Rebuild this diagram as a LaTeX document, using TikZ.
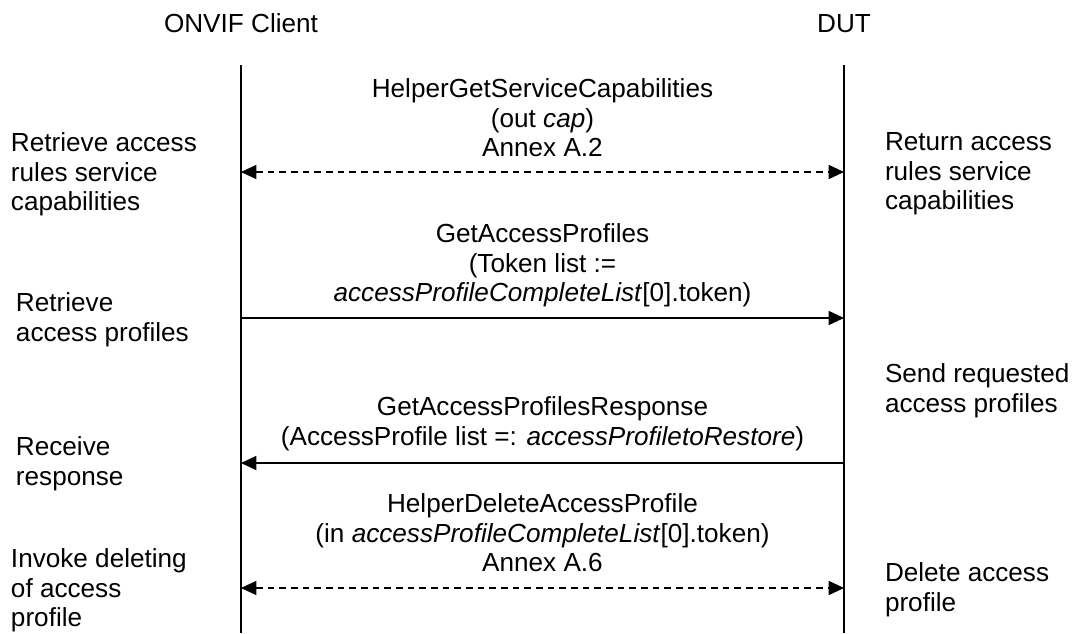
\documentclass[tikz,border=0pt]{standalone}
\usepackage{fontspec}
\setmainfont{Liberation Sans}
\usetikzlibrary{arrows.meta}
\begin{document}
\begin{tikzpicture}[x=0.75pt,y=-0.75pt,
  every node/.style={inner sep=0pt, outer sep=0pt, font=\fontsize{19.6}{21.8}\selectfont},
  lifeline/.style={line width=1.2pt},
  tip/.tip={Triangle[length=11.5pt,width=10.5pt]},
  msg/.style={line width=1.2pt, -tip},
  callmsg/.style={line width=1.2pt, tip-tip, dash pattern=on 5pt off 3.75pt},
  lbl/.style={align=left, anchor=north west},
  ctr/.style={align=center, anchor=north}]
\useasboundingbox (0,0) rectangle (1077,633);
% headers
\node[anchor=base] (client) at (241,32) {ONVIF Client};
\node[anchor=base] (dut) at (844,32) {DUT};
% lifelines
\coordinate (ctop) at (241,65);
\coordinate (cbot) at (241,633);
\coordinate (dtop) at (844,65);
\coordinate (dbot) at (844,633);
\draw[lifeline] (ctop) -- (cbot);
\draw[lifeline] (dtop) -- (dbot);
% message end points
\coordinate (c1) at (241,172); \coordinate (d1) at (844,172);
\coordinate (c2) at (241,318); \coordinate (d2) at (844,318);
\coordinate (c3) at (241,463); \coordinate (d3) at (844,463);
\coordinate (c4) at (241,588); \coordinate (d4) at (844,588);
\draw[callmsg] (c1) -- (d1);
\draw[msg] (c2) -- (d2);
\draw[msg] (d3) -- (c3);
\draw[callmsg] (c4) -- (d4);
% message labels
\node[ctr] (m1) at (542.5,79) {HelperGetServiceCapabilities\\(out \textit{cap})\\Annex A.2};
\node[ctr] (m2) at (542.5,224) {GetAccessProfiles\\(Token list :=\\\textit{accessProfileCompleteList}[0].token)};
\node[ctr] (m3) at (542.5,397) {GetAccessProfilesResponse\\(AccessProfile list =: \textit{accessProfiletoRestore})};
\node[ctr] (m4) at (542.5,494) {HelperDeleteAccessProfile\\(in \textit{accessProfileCompleteList}[0].token)\\Annex A.6};
% client side notes
\node[lbl] (l1) at (11,133) {Retrieve access\\rules service\\capabilities};
\node[lbl] (l2) at (16,293) {Retrieve\\access profiles};
\node[lbl] (l3) at (16,437) {Receive\\response};
\node[lbl] (l4) at (11,549) {Invoke deleting\\of access\\profile};
% DUT side notes
\node[lbl] (r1) at (885,133) {Return access\\rules service\\capabilities};
\node[lbl] (r2) at (885,364) {Send requested\\access profiles};
\node[lbl] (r3) at (885,563) {Delete access\\profile};
\end{tikzpicture}
\end{document}
